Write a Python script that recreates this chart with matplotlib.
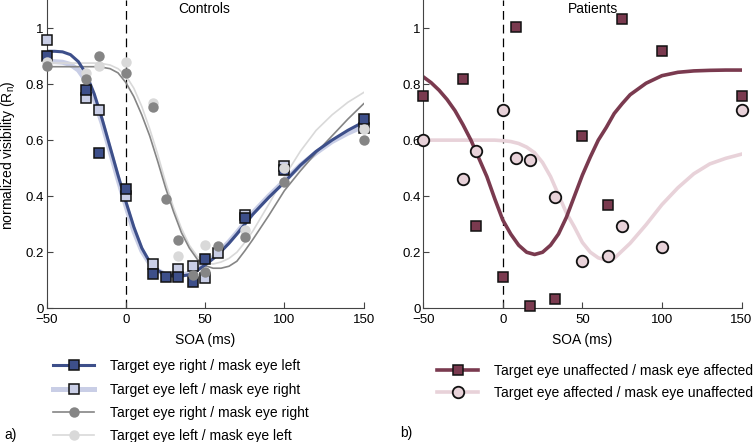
import matplotlib
matplotlib.use('Agg')
import matplotlib.pyplot as plt
from matplotlib.lines import Line2D

plt.rcParams['font.family'] = ['Liberation Sans', 'DejaVu Sans']

# Controls: normalized visibility per condition, SOA in ms
ctrl_rl_x = [-50, -25, -17, 0, 17, 25, 33, 42, 50, 75, 100, 150]
ctrl_rl = [0.90, 0.78, 0.555, 0.425, 0.123, 0.111, 0.111, 0.095, 0.175, 0.321, 0.494, 0.675]
ctrl_lr_x = [-50, -25, -17, 0, 17, 33, 42, 50, 58, 75, 100, 150]
ctrl_lr = [0.958, 0.75, 0.708, 0.399, 0.157, 0.139, 0.152, 0.107, 0.199, 0.333, 0.506, 0.645]
ctrl_rr_x = [-50, -25, -17, 0, 17, 25, 33, 42, 50, 58, 75, 100, 150]
ctrl_rr = [0.863, 0.819, 0.90, 0.839, 0.72, 0.389, 0.242, 0.119, 0.131, 0.223, 0.256, 0.452, 0.601]
ctrl_ll_x = [-50, -25, -17, 0, 17, 33, 50, 75, 100, 150]
ctrl_ll = [0.88, 0.84, 0.863, 0.877, 0.734, 0.187, 0.226, 0.28, 0.50, 0.64]

# Patients
pat_x = [-50, -25, -17, 0, 8, 17, 33, 50, 66, 75, 100, 150]
pat_ua = [0.758, 0.818, 0.295, 0.111, 1.004, 0.008, 0.033, 0.615, 0.369, 1.033, 0.917, 0.758]
pat_au = [0.599, 0.462, 0.562, 0.706, 0.538, 0.530, 0.396, 0.169, 0.187, 0.292, 0.218, 0.708]

# fitted curves
fit_x = [-50, -45, -40, -35, -30, -25, -20, -15, -10, -5, 0, 5, 10, 15, 20, 25, 30,
         35, 40, 45, 50, 55, 60, 65, 70, 75, 80, 90, 100, 110, 120, 130, 140, 150]
fit_rl = [0.917, 0.917, 0.915, 0.905, 0.88, 0.835, 0.765, 0.675, 0.575, 0.475, 0.38,
          0.29, 0.215, 0.165, 0.135, 0.12, 0.115, 0.115, 0.12, 0.135, 0.155, 0.177,
          0.203, 0.232, 0.265, 0.30, 0.335, 0.395, 0.45, 0.51, 0.56, 0.60, 0.635, 0.665]
fit_lr = [0.88, 0.88, 0.878, 0.87, 0.85, 0.81, 0.745, 0.66, 0.56, 0.46, 0.365,
          0.275, 0.205, 0.16, 0.135, 0.12, 0.117, 0.118, 0.125, 0.14, 0.16, 0.182,
          0.208, 0.237, 0.27, 0.305, 0.34, 0.40, 0.455, 0.51, 0.555, 0.595, 0.625, 0.65]
fit_rr = [0.862, 0.862, 0.862, 0.862, 0.862, 0.862, 0.862, 0.86, 0.855, 0.84, 0.805,
          0.755, 0.69, 0.615, 0.525, 0.43, 0.345, 0.27, 0.215, 0.175, 0.152, 0.143,
          0.143, 0.15, 0.168, 0.205, 0.245, 0.33, 0.42, 0.49, 0.555, 0.615, 0.675, 0.73]
fit_ll = [0.875, 0.875, 0.875, 0.875, 0.875, 0.875, 0.875, 0.873, 0.868, 0.855, 0.83,
          0.785, 0.72, 0.64, 0.55, 0.45, 0.36, 0.285, 0.225, 0.185, 0.163, 0.158,
          0.165, 0.178, 0.20, 0.235, 0.275, 0.37, 0.47, 0.56, 0.635, 0.69, 0.735, 0.77]
fit_ua = [0.826, 0.805, 0.778, 0.745, 0.705, 0.655, 0.60, 0.535, 0.47, 0.39, 0.315,
          0.265, 0.225, 0.20, 0.192, 0.20, 0.225, 0.265, 0.325, 0.40, 0.475, 0.54,
          0.60, 0.645, 0.695, 0.73, 0.762, 0.803, 0.83, 0.842, 0.847, 0.849, 0.85, 0.85]
fit_au = [0.60, 0.60, 0.60, 0.60, 0.60, 0.60, 0.60, 0.60, 0.60, 0.60, 0.598,
          0.595, 0.588, 0.575, 0.555, 0.52, 0.47, 0.405, 0.34, 0.29, 0.235, 0.20,
          0.18, 0.172, 0.178, 0.205, 0.232, 0.298, 0.37, 0.43, 0.48, 0.515, 0.535, 0.55]

xticks = [-50, 0, 50, 100, 150]
yticks = [0, 0.2, 0.4, 0.6, 0.8, 1]
ytick_labels = ['0', '0.2', '0.4', '0.6', '0.8', '1']

c_blue = '#3d4f8a'
c_lblue = '#c9cee6'
c_gray = '#858585'
c_lgray = '#d9d9d9'
c_maroon = '#7a3a4f'
c_pink = '#e8d2d9'

fig = plt.figure(figsize=(7.53, 4.42), dpi=100)
ax1 = fig.add_axes([0.062, 0.3025, 0.421, 0.6975])
ax2 = fig.add_axes([0.562, 0.3025, 0.4228, 0.6975])

for ax in (ax1, ax2):
    ax.set_xlim(-50, 150)
    ax.set_ylim(0, 1.1)
    ax.spines['top'].set_visible(False)
    ax.spines['right'].set_visible(False)
    ax.spines['left'].set_color('#444444')
    ax.spines['bottom'].set_color('#444444')
    ax.set_xticks(xticks)
    ax.set_yticks(yticks)
    ax.set_yticklabels(ytick_labels)
    ax.tick_params(direction='in', length=4, labelsize=9.5, color='#444444')
    ax.tick_params(axis='x', pad=4)
    ax.tick_params(axis='y', pad=2)
    ax.axvline(0, color='k', lw=0.9, ls=(0, (7, 4)), zorder=1)
    ax.set_xlabel('SOA (ms)', fontsize=10, labelpad=5)

# Controls
ax1.plot(fit_x, fit_lr, color=c_lblue, lw=3.6, zorder=2)
ax1.plot(fit_x, fit_rl, color=c_blue, lw=2.2, zorder=2.1)
ax1.plot(fit_x, fit_ll, color=c_lgray, lw=1.2, zorder=2)
ax1.plot(fit_x, fit_rr, color=c_gray, lw=1.2, zorder=2)
ax1.plot(ctrl_lr_x, ctrl_lr, ls='none', marker='s', ms=7, mfc=c_lblue, mec='#111111', mew=1.1, zorder=3, clip_on=False)
ax1.plot(ctrl_rl_x, ctrl_rl, ls='none', marker='s', ms=7, mfc=c_blue, mec='#111111', mew=1.1, zorder=3.1, clip_on=False)
ax1.plot(ctrl_ll_x, ctrl_ll, ls='none', marker='o', ms=7.5, mfc=c_lgray, mec='none', zorder=3.2, clip_on=False)
ax1.plot(ctrl_rr_x, ctrl_rr, ls='none', marker='o', ms=7.5, mfc=c_gray, mec='none', zorder=3.3, clip_on=False)
ax1.text(0.496, 0.97, 'Controls', transform=ax1.transAxes, ha='center', va='center', fontsize=10)

# Patients
ax2.plot(fit_x, fit_au, color=c_pink, lw=2.6, zorder=2)
ax2.plot(fit_x, fit_ua, color=c_maroon, lw=2.6, zorder=2.1)
ax2.plot(pat_x, pat_ua, ls='none', marker='s', ms=7, mfc=c_maroon, mec='#111111', mew=1.1, zorder=3, clip_on=False)
ax2.plot(pat_x, pat_au, ls='none', marker='o', ms=8.3, mfc=c_pink, mec='#111111', mew=1.3, zorder=3.1, clip_on=False)
ax2.text(0.533, 0.97, 'Patients', transform=ax2.transAxes, ha='center', va='center', fontsize=10)

fig.text(0.011, 0.649, 'normalized visibility (R$_\\mathregular{n}$)', rotation=90,
         ha='center', va='center', fontsize=10)

# legends
h1 = [
    Line2D([], [], color=c_blue, lw=2.2, marker='s', ms=7, mfc=c_blue, mec='#111111', mew=1.1),
    Line2D([], [], color=c_lblue, lw=3.6, marker='s', ms=7, mfc=c_lblue, mec='#111111', mew=1.1),
    Line2D([], [], color=c_gray, lw=1.2, marker='o', ms=7.5, mfc=c_gray, mec='none'),
    Line2D([], [], color=c_lgray, lw=1.2, marker='o', ms=7.5, mfc=c_lgray, mec='none'),
]
l1 = ['Target eye right / mask eye left', 'Target eye left / mask eye right',
      'Target eye right / mask eye right', 'Target eye left / mask eye left']
fig.legend(h1, l1, loc='upper left', bbox_to_anchor=(0.070, 0.187), frameon=False,
           borderpad=0, borderaxespad=0, handlelength=3.0, handletextpad=1.1,
           labelspacing=0.66, fontsize=10)

h2 = [
    Line2D([], [], color=c_maroon, lw=2.6, marker='s', ms=7, mfc=c_maroon, mec='#111111', mew=1.1),
    Line2D([], [], color=c_pink, lw=2.6, marker='o', ms=8.3, mfc=c_pink, mec='#111111', mew=1.3),
]
l2 = ['Target eye unaffected / mask eye affected', 'Target eye affected / mask eye unaffected']
fig.legend(h2, l2, loc='upper left', bbox_to_anchor=(0.580, 0.176), frameon=False,
           borderpad=0, borderaxespad=0, handlelength=3.0, handletextpad=1.1,
           labelspacing=0.55, fontsize=10)

fig.text(0.006, 0.016, 'a)', ha='left', va='center', fontsize=10)
fig.text(0.531, 0.02, 'b)', ha='left', va='center', fontsize=10)

fig.savefig('out.png', dpi=100)
